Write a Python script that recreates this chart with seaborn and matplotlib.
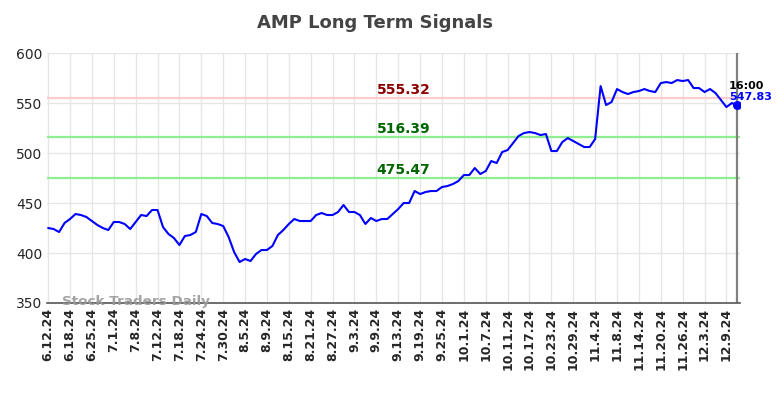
import numpy as np
import pandas as pd
import matplotlib
matplotlib.use("Agg")
import matplotlib.pyplot as plt
import seaborn as sns

# Closing prices, one per trading day
prices = [
    425, 424, 421, 430, 434, 439, 438, 436, 432, 428,
    425, 423, 431, 431, 429, 424, 431, 438, 437, 443,
    443, 426, 419, 415, 408, 417, 418, 421, 439, 437,
    430, 429, 427, 416, 401, 391, 394, 392, 399, 403,
    403, 407, 418, 423, 429, 434, 432, 432, 432, 438,
    440, 438, 438, 441, 448, 441, 441, 438, 429, 435,
    432, 434, 434, 439, 444, 450, 450, 462, 459, 461,
    462, 462, 466, 467, 469, 472, 478, 478, 485, 479,
    482, 492, 490, 501, 503, 510, 517, 520, 521, 520,
    518, 519, 502, 502, 511, 515, 512, 509, 506, 506,
    514, 567, 548, 551, 564, 561, 559, 561, 562, 564,
    562, 561, 570, 571, 570, 573, 572, 573, 565, 565,
    561, 564, 560, 553, 546, 550, 547.83,
]
tick_labels = [
    "6.12.24", "6.18.24", "6.25.24", "7.1.24", "7.8.24", "7.12.24", "7.18.24",
    "7.24.24", "7.30.24", "8.5.24", "8.9.24", "8.15.24", "8.21.24", "8.27.24",
    "9.3.24", "9.9.24", "9.13.24", "9.19.24", "9.25.24", "10.1.24", "10.7.24",
    "10.11.24", "10.17.24", "10.23.24", "10.29.24", "11.4.24", "11.8.24",
    "11.14.24", "11.20.24", "11.26.24", "12.3.24", "12.9.24",
]
signal_levels = [555.32, 516.39, 475.47]
signal_colors = ["#ffcccc", "#90ee90", "#90ee90"]
label_colors = ["#8b0000", "#006400", "#006400"]
last_time = "16:00"

df = pd.DataFrame({"idx": np.arange(len(prices)), "price": prices})

sns.set_style("white")
fig = plt.figure(figsize=(7.84, 3.98), dpi=100)
ax = fig.add_axes([0.060, 0.2387, 0.884, 0.628])

for lvl, c in zip(signal_levels, signal_colors):
    ax.axhline(lvl, color=c, lw=1.6, zorder=1)

sns.lineplot(data=df, x="idx", y="price", color="#0000ff", lw=1.5, ax=ax, zorder=3)

last_i = len(prices) - 1
ax.axvline(last_i, color="#808080", lw=1.6, zorder=2)
ax.scatter([last_i], [prices[-1]], color="#0000ff", s=30, zorder=4)

label_x = 65
for lvl, c in zip(signal_levels, label_colors):
    ax.text(label_x, lvl + 1, f"{lvl:.2f}", color=c, fontsize=10, fontweight="bold",
            ha="center", va="bottom")

# last-price annotation, left aligned a little before the last point
ax.text(last_i - 1.5, prices[-1] + 14, last_time, color="black", fontsize=8,
        fontweight="bold", ha="left", va="bottom")
ax.text(last_i - 1.5, prices[-1] + 3, f"{prices[-1]:.2f}", color="#0000ff", fontsize=8,
        fontweight="bold", ha="left", va="bottom")

# watermark sits on the bottom spine
ax.text(2.5, 351, "Stock Traders Daily", color="#999999", fontsize=9.7,
        fontweight="bold", ha="left", va="center", alpha=0.9, zorder=5)

ax.set_xlim(-0.2, 126.5)
ax.set_ylim(350, 600)
ax.set_yticks([350, 400, 450, 500, 550, 600])
ax.set_xticks(np.arange(len(tick_labels)) * 4)
ax.set_xticklabels(tick_labels, rotation=90, fontsize=9, fontweight="bold")
ax.tick_params(axis="y", labelsize=10)
ax.tick_params(length=0)
ax.grid(True, color="#e6e6e6", lw=1)
ax.set_axisbelow(True)
ax.set_xlabel("")
ax.set_ylabel("")
for side in ["left", "right", "top"]:
    ax.spines[side].set_visible(False)
ax.spines["bottom"].set_color("#555555")
ax.spines["bottom"].set_linewidth(1.2)

fig.suptitle("AMP Long Term Signals", x=0.478, y=0.965, fontsize=13,
             fontweight="bold", color="#444444")

fig.savefig("out.png", dpi=100)
